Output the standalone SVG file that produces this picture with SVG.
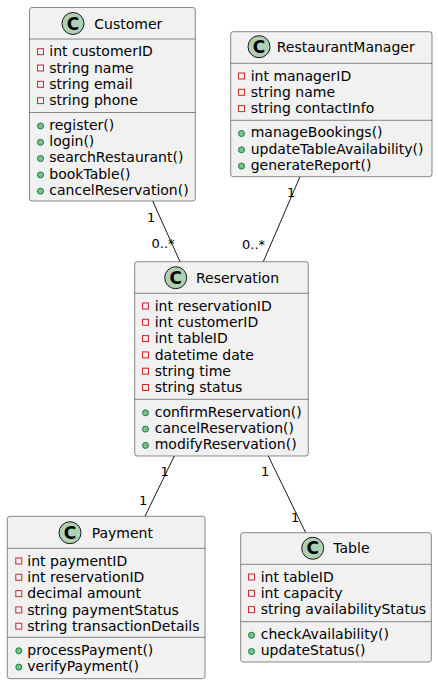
<svg xmlns="http://www.w3.org/2000/svg" width="438" height="684" viewBox="0 0 438 684">
<style>
  .box { fill: #F1F1F1; stroke: #181818; stroke-width: 0.5; }
  .div { stroke: #181818; stroke-width: 0.5; }
  .circ { fill: #ADD1B2; stroke: #181818; stroke-width: 1; }
  .cl { font-family: "DejaVu Sans", sans-serif; font-size: 17px; font-weight: bold; fill: #000; text-anchor: middle; }
  .t { font-family: "DejaVu Sans", sans-serif; font-size: 14px; fill: #000; }
  .lbl { font-family: "DejaVu Sans", sans-serif; font-size: 13px; fill: #000; }
  .priv { fill: none; stroke: #C82930; stroke-width: 1; }
  .pub { fill: #84BE84; stroke: #038048; stroke-width: 1; }
  .edge { stroke: #181818; stroke-width: 1; fill: none; }
</style>
<rect width="438" height="684" fill="#FFFFFF"/>

<g id="connectors">
  <line class="edge" x1="152.7" y1="201" x2="180" y2="261.7"/>
  <text class="lbl" x="147" y="221.7">1</text>
  <text class="lbl" x="151.5" y="248.3">0..*</text>

  <line class="edge" x1="300" y1="176.7" x2="263.3" y2="261.7"/>
  <text class="lbl" x="287" y="196.7">1</text>
  <text class="lbl" x="242" y="249">0..*</text>

  <line class="edge" x1="174.3" y1="456" x2="145" y2="516.3"/>
  <text class="lbl" x="160.5" y="476">1</text>
  <text class="lbl" x="139" y="505">1</text>

  <line class="edge" x1="268.3" y1="456" x2="305.7" y2="532.7"/>
  <text class="lbl" x="261" y="475.7">1</text>
  <text class="lbl" x="291" y="521.7">1</text>
</g>

<g id="Customer">
  <rect class="box" x="29.5" y="7.5" width="165.8" height="193.5" rx="2.5"/>
  <circle class="circ" cx="73" cy="23.5" r="11"/>
  <text class="cl" x="73" y="29.6">C</text>
  <text class="t" x="94.3" y="28.6">Customer</text>
  <line class="div" x1="29.5" y1="39" x2="195.3" y2="39"/>
  <rect class="priv" x="37.5" y="48.7" width="6" height="6"/>
  <text class="t" x="49.3" y="56.3">int customerID</text>
  <rect class="priv" x="37.5" y="65" width="6" height="6"/>
  <text class="t" x="49.3" y="72.6">string name</text>
  <rect class="priv" x="37.5" y="81.3" width="6" height="6"/>
  <text class="t" x="49.3" y="88.9">string email</text>
  <rect class="priv" x="37.5" y="97.6" width="6" height="6"/>
  <text class="t" x="49.3" y="105.2">string phone</text>
  <line class="div" x1="29.5" y1="112.5" x2="195.3" y2="112.5"/>
  <circle class="pub" cx="40.5" cy="126" r="3"/>
  <text class="t" x="49.3" y="129.8">register()</text>
  <circle class="pub" cx="40.5" cy="142.3" r="3"/>
  <text class="t" x="49.3" y="146.1">login()</text>
  <circle class="pub" cx="40.5" cy="158.6" r="3"/>
  <text class="t" x="49.3" y="162.4">searchRestaurant()</text>
  <circle class="pub" cx="40.5" cy="174.9" r="3"/>
  <text class="t" x="49.3" y="178.7">bookTable()</text>
  <circle class="pub" cx="40.5" cy="191.2" r="3"/>
  <text class="t" x="49.3" y="195">cancelReservation()</text>
</g>

<g id="RestaurantManager">
  <rect class="box" x="230.7" y="31.7" width="201.3" height="145" rx="2.5"/>
  <circle class="circ" cx="259" cy="46.7" r="11"/>
  <text class="cl" x="259" y="52.8">C</text>
  <text class="t" x="276.7" y="51.8">RestaurantManager</text>
  <line class="div" x1="230.7" y1="63.3" x2="432" y2="63.3"/>
  <rect class="priv" x="238.5" y="73" width="6" height="6"/>
  <text class="t" x="250.7" y="80.6">int managerID</text>
  <rect class="priv" x="238.5" y="89.3" width="6" height="6"/>
  <text class="t" x="250.7" y="96.9">string name</text>
  <rect class="priv" x="238.5" y="105.6" width="6" height="6"/>
  <text class="t" x="250.7" y="113.2">string contactInfo</text>
  <line class="div" x1="230.7" y1="120.3" x2="432" y2="120.3"/>
  <circle class="pub" cx="241.5" cy="133.5" r="3"/>
  <text class="t" x="250.7" y="137.3">manageBookings()</text>
  <circle class="pub" cx="241.5" cy="149.8" r="3"/>
  <text class="t" x="250.7" y="153.6">updateTableAvailability()</text>
  <circle class="pub" cx="241.5" cy="166.1" r="3"/>
  <text class="t" x="250.7" y="169.9">generateReport()</text>
</g>

<g id="Reservation">
  <rect class="box" x="134.7" y="261.7" width="173.6" height="194.3" rx="2.5"/>
  <circle class="circ" cx="175.7" cy="277.7" r="11"/>
  <text class="cl" x="175.7" y="283.8">C</text>
  <text class="t" x="196" y="282.8">Reservation</text>
  <line class="div" x1="134.7" y1="293.3" x2="308.3" y2="293.3"/>
  <rect class="priv" x="142.5" y="303" width="6" height="6"/>
  <text class="t" x="154.7" y="310.6">int reservationID</text>
  <rect class="priv" x="142.5" y="319.3" width="6" height="6"/>
  <text class="t" x="154.7" y="326.9">int customerID</text>
  <rect class="priv" x="142.5" y="335.6" width="6" height="6"/>
  <text class="t" x="154.7" y="343.2">int tableID</text>
  <rect class="priv" x="142.5" y="351.9" width="6" height="6"/>
  <text class="t" x="154.7" y="359.5">datetime date</text>
  <rect class="priv" x="142.5" y="368.2" width="6" height="6"/>
  <text class="t" x="154.7" y="375.8">string time</text>
  <rect class="priv" x="142.5" y="384.5" width="6" height="6"/>
  <text class="t" x="154.7" y="392.1">string status</text>
  <line class="div" x1="134.7" y1="399.3" x2="308.3" y2="399.3"/>
  <circle class="pub" cx="145.5" cy="412.8" r="3"/>
  <text class="t" x="154.7" y="416.6">confirmReservation()</text>
  <circle class="pub" cx="145.5" cy="429.1" r="3"/>
  <text class="t" x="154.7" y="432.9">cancelReservation()</text>
  <circle class="pub" cx="145.5" cy="445.4" r="3"/>
  <text class="t" x="154.7" y="449.2">modifyReservation()</text>
</g>

<g id="Payment">
  <rect class="box" x="7.3" y="516.3" width="197.7" height="162.4" rx="2.5"/>
  <circle class="circ" cx="70" cy="532.7" r="11"/>
  <text class="cl" x="70" y="538.8">C</text>
  <text class="t" x="91.7" y="537.8">Payment</text>
  <line class="div" x1="7.3" y1="548.3" x2="205" y2="548.3"/>
  <rect class="priv" x="15.8" y="558" width="6" height="6"/>
  <text class="t" x="27.3" y="565.6">int paymentID</text>
  <rect class="priv" x="15.8" y="574.3" width="6" height="6"/>
  <text class="t" x="27.3" y="581.9">int reservationID</text>
  <rect class="priv" x="15.8" y="590.6" width="6" height="6"/>
  <text class="t" x="27.3" y="598.2">decimal amount</text>
  <rect class="priv" x="15.8" y="606.9" width="6" height="6"/>
  <text class="t" x="27.3" y="614.5">string paymentStatus</text>
  <rect class="priv" x="15.8" y="623.2" width="6" height="6"/>
  <text class="t" x="27.3" y="630.8">string transactionDetails</text>
  <line class="div" x1="7.3" y1="637.3" x2="205" y2="637.3"/>
  <circle class="pub" cx="18.8" cy="650.8" r="3"/>
  <text class="t" x="27.3" y="654.6">processPayment()</text>
  <circle class="pub" cx="18.8" cy="667.1" r="3"/>
  <text class="t" x="27.3" y="670.9">verifyPayment()</text>
</g>

<g id="Table">
  <rect class="box" x="240.7" y="532.7" width="190.6" height="129.3" rx="2.5"/>
  <circle class="circ" cx="312.7" cy="548.3" r="11"/>
  <text class="cl" x="312.7" y="554.4">C</text>
  <text class="t" x="333.3" y="553.4">Table</text>
  <line class="div" x1="240.7" y1="564.3" x2="431.3" y2="564.3"/>
  <rect class="priv" x="248.5" y="574" width="6" height="6"/>
  <text class="t" x="260.7" y="581.6">int tableID</text>
  <rect class="priv" x="248.5" y="590.3" width="6" height="6"/>
  <text class="t" x="260.7" y="597.9">int capacity</text>
  <rect class="priv" x="248.5" y="606.6" width="6" height="6"/>
  <text class="t" x="260.7" y="614.2">string availabilityStatus</text>
  <line class="div" x1="240.7" y1="621.7" x2="431.3" y2="621.7"/>
  <circle class="pub" cx="251.5" cy="635.2" r="3"/>
  <text class="t" x="260.7" y="639">checkAvailability()</text>
  <circle class="pub" cx="251.5" cy="651.5" r="3"/>
  <text class="t" x="260.7" y="655.3">updateStatus()</text>
</g>
</svg>
